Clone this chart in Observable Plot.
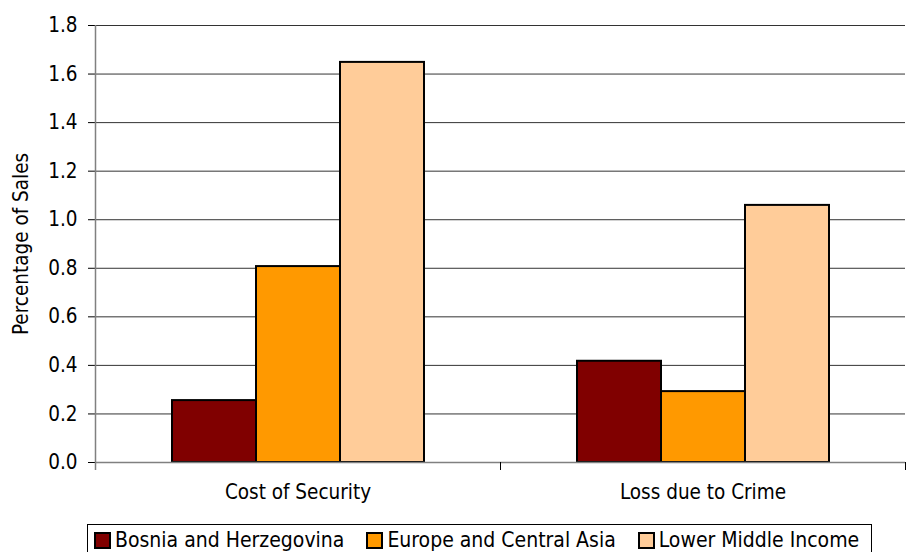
<!DOCTYPE html>
<html>
<head>
<meta charset="utf-8">
<script src="https://cdn.jsdelivr.net/npm/d3@7"></script>
<script src="https://cdn.jsdelivr.net/npm/@observablehq/plot@0.6"></script>
<style>
  html, body { margin: 0; padding: 0; background: #fff; }
  #wrap { position: relative; width: 911px; height: 552px; overflow: hidden; font-family: "DejaVu Sans Condensed", "DejaVu Sans", sans-serif; font-stretch: condensed; }
  #legend { position: absolute; top: 524px; left: 87px; border: 1px solid #000; padding: 5px 8px 12px 6px; display: flex; align-items: center; font-size: 21px; line-height: 20px; white-space: nowrap; color: #000; }
  .item { display: flex; align-items: center; margin-right: 22px; }
  .item:last-child { margin-right: 4px; }
  .sw { width: 13px; height: 13px; border: 2px solid #000; margin-right: 4px; }
</style>
</head>
<body>
<div id="wrap">
  <div id="chart"></div>
  <div id="legend"></div>
</div>
<script>
const categories = ["Cost of Security", "Loss due to Crime"];
const series = ["Bosnia and Herzegovina", "Europe and Central Asia", "Lower Middle Income"];
const bosnia = [0.255, 0.417];
const europeCentralAsia = [0.807, 0.292];
const lowerMiddleIncome = [1.648, 1.059];
const yTicks = [0, 0.2, 0.4, 0.6, 0.8, 1.0, 1.2, 1.4, 1.6, 1.8];
const colors = ["#800000", "#FF9900", "#FFCC99"];
const yTitle = "Percentage of Sales";

const valuesBySeries = [bosnia, europeCentralAsia, lowerMiddleIncome];
const data = [];
categories.forEach((c, i) => {
  series.forEach((s, j) => data.push({category: c, series: s, value: valuesBySeries[j][i]}));
});

const fontFamily = '"DejaVu Sans Condensed", "DejaVu Sans", sans-serif';

const chart = Plot.plot({
  width: 911,
  height: 512,
  marginLeft: 95,
  marginRight: 6,
  marginTop: 25,
  marginBottom: 50,
  style: {fontFamily, fontSize: "20.5px", color: "#000", background: "#fff", fontStretch: "condensed"},
  fx: {domain: categories, padding: 0, label: null},
  x: {domain: series, paddingInner: 0, paddingOuter: 0.89, axis: null},
  y: {domain: [0, 1.8], label: null},
  color: {domain: series, range: colors},
  marks: [
    Plot.gridY(yTicks, {stroke: "#333", strokeOpacity: 1, strokeWidth: 1}),
    Plot.axisY({ticks: yTicks, tickFormat: d3.format(".1f"), tickSize: 7, tickPadding: 11, label: null, stroke: "#000"}),
    Plot.axisFx({anchor: "bottom", tickSize: 0, tickPadding: 22, label: null}),
    Plot.barY(data, {fx: "category", x: "series", y: "value", fill: "series", stroke: "#000", strokeWidth: 2, inset: 0}),
    Plot.ruleY([0], {stroke: "#808080", strokeWidth: 1.5}),
    Plot.text([yTitle], {fx: () => categories[0], text: d => d, frameAnchor: "left", textAnchor: "middle", rotate: -90, dx: -74, fill: "#000"})
  ]
});

document.getElementById("chart").appendChild(chart);

// axis line and category boundary ticks, positioned from the chart's own scales
try {
  const fx = chart.scale("fx");
  const y = chart.scale("y");
  const svg = d3.select(chart);
  const g = svg.append("g");
  const x0 = fx.apply(categories[0]);
  const yTop = y.apply(yTicks[yTicks.length - 1]);
  const yBase = y.apply(0);
  g.append("line").attr("x1", x0 + 0.5).attr("x2", x0 + 0.5).attr("y1", yTop).attr("y2", yBase + 8)
    .attr("stroke", "#808080").attr("stroke-width", 1.5);
  categories.forEach(c => {
    const xb = Math.round(fx.apply(c) + fx.bandwidth) + 0.5;
    g.append("line").attr("x1", xb).attr("x2", xb).attr("y1", yBase).attr("y2", yBase + 8)
      .attr("stroke", "#000").attr("stroke-width", 1);
  });
} catch (e) { console.error(e); }

// legend
const legend = document.getElementById("legend");
series.forEach((s, i) => {
  const item = document.createElement("div");
  item.className = "item";
  const sw = document.createElement("div");
  sw.className = "sw";
  sw.style.background = colors[i];
  const t = document.createElement("span");
  t.textContent = s;
  item.appendChild(sw);
  item.appendChild(t);
  legend.appendChild(item);
});
</script>
</body>
</html>
